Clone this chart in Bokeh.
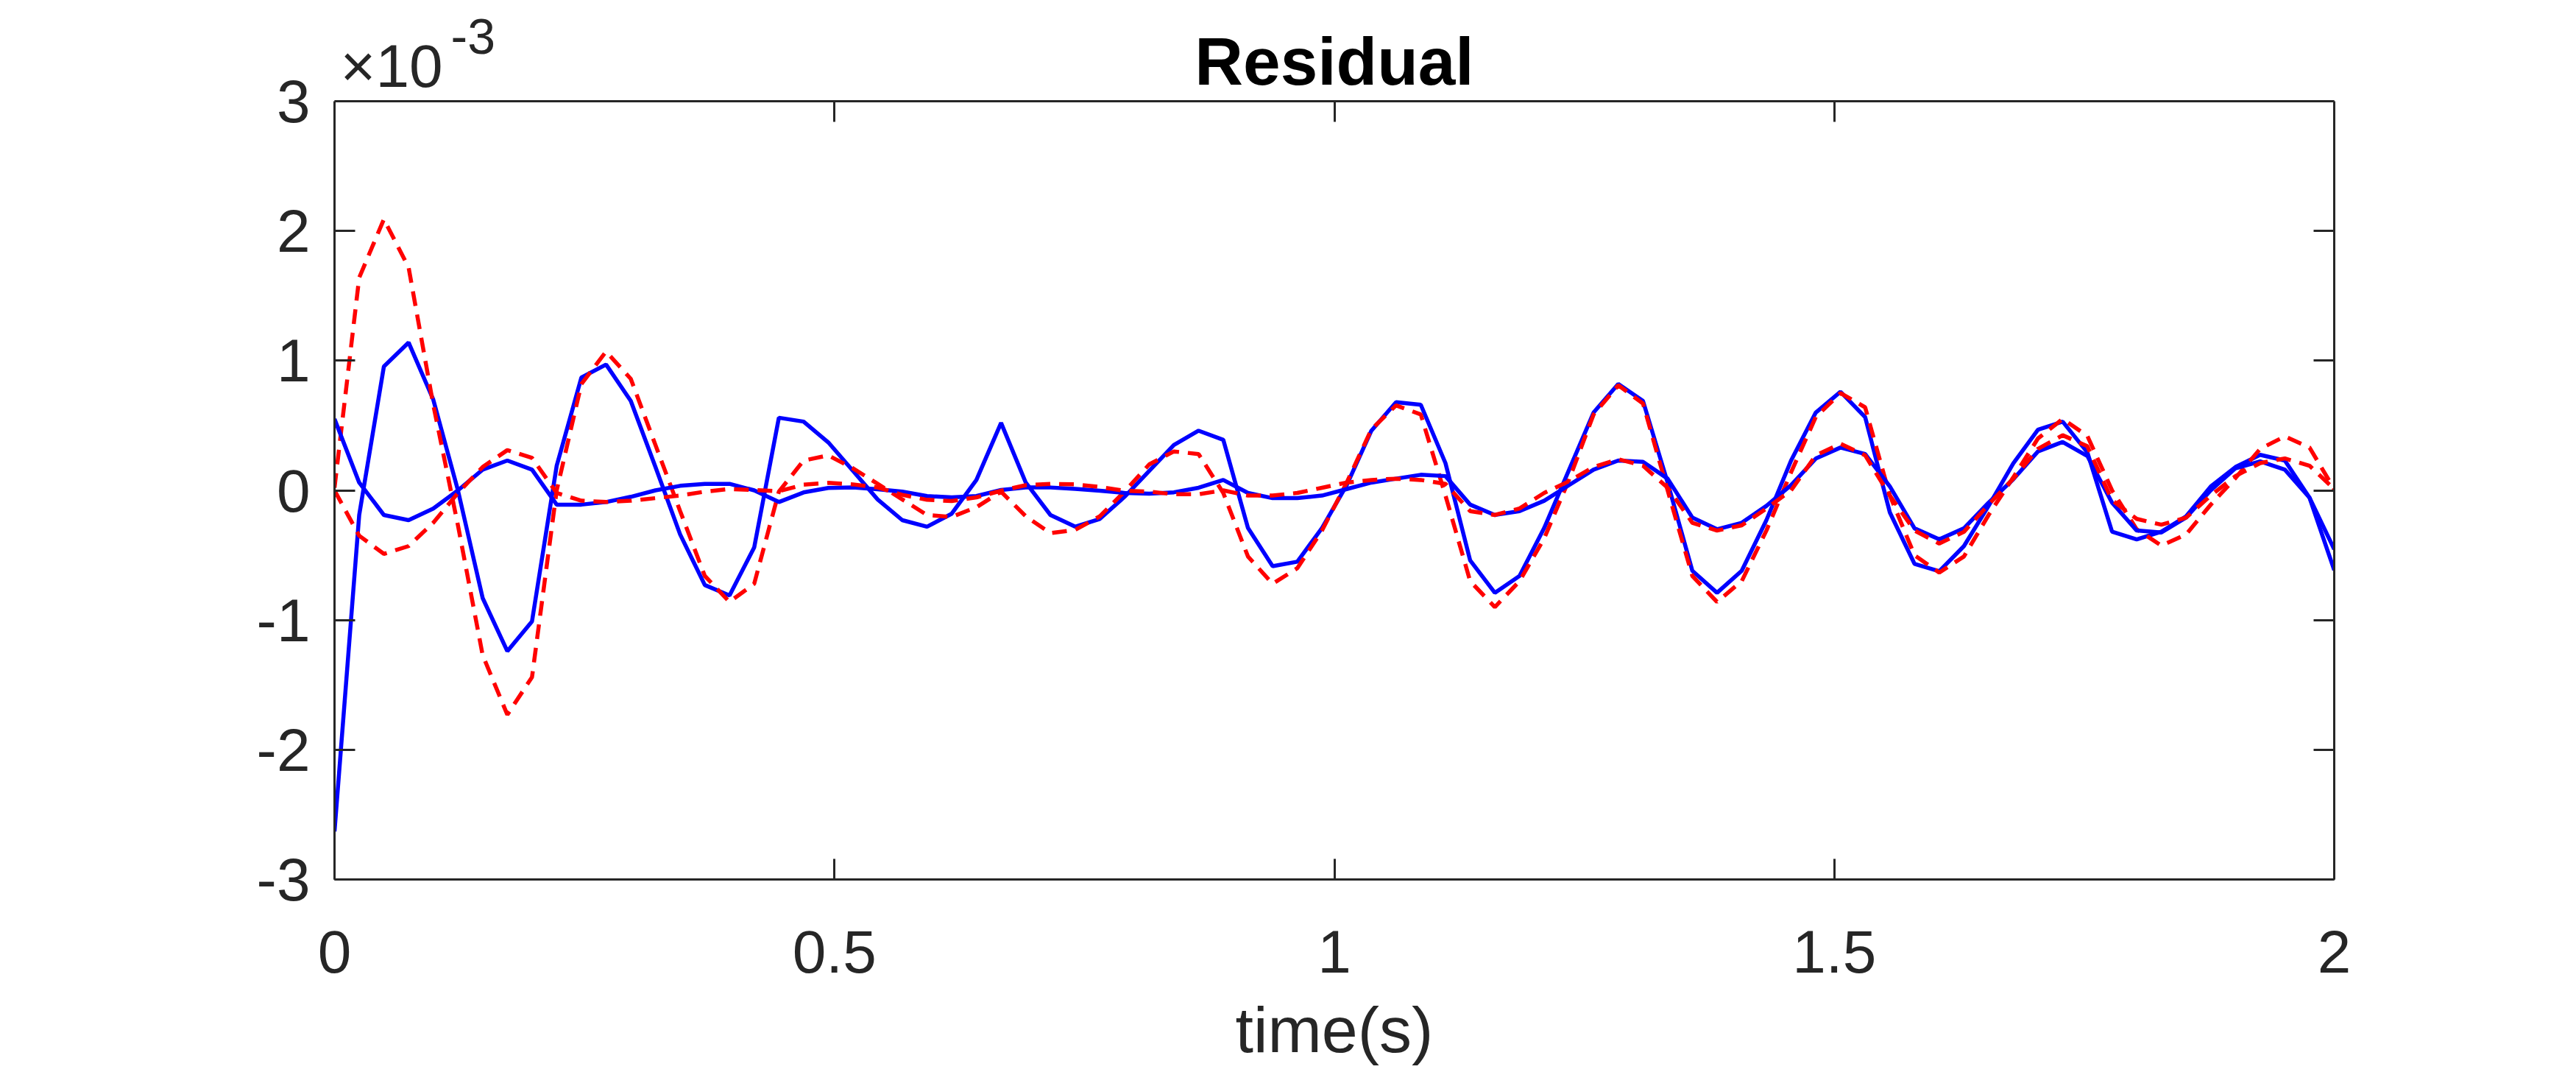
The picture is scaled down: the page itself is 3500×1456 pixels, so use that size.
import numpy as np
from bokeh.plotting import figure
from bokeh.models import Range1d, FixedTicker, CustomJSTickFormatter, LinearAxis, Label
from bokeh.embed import file_html
from bokeh.resources import INLINE

# ---- data (residual values in units of 1e-3, sampled every 2/81 s) ----
time_s = np.linspace(0.0, 2.0, 82)

residual_blue_a = [
    -2.63, -0.19, 0.955, 1.14, 0.70, 0.0, -0.83, -1.24, -1.01, 0.19,
    0.87, 0.97, 0.69, 0.18, -0.34, -0.73, -0.81, -0.44, 0.56, 0.53,
    0.37, 0.15, -0.07, -0.23, -0.28, -0.18, 0.08, 0.52, 0.06, -0.19,
    -0.28, -0.22, -0.05, 0.15, 0.35, 0.46, 0.39, -0.29, -0.585, -0.55,
    -0.29, 0.04, 0.46, 0.68, 0.66, 0.21, -0.54, -0.79, -0.66, -0.29,
    0.155, 0.60, 0.82, 0.69, 0.06, -0.62, -0.79, -0.62, -0.23, 0.23,
    0.60, 0.76, 0.565, -0.17, -0.567, -0.624, -0.43, -0.12, 0.208, 0.467,
    0.53, 0.293, -0.318, -0.378, -0.318, -0.20, 0.03, 0.18, 0.274, 0.23,
    -0.057, -0.615,
]

residual_red_a = [
    0.02, 1.64, 2.09, 1.72, 0.66, -0.27, -1.27, -1.73, -1.44, 0.0,
    0.82, 1.07, 0.86, 0.35, -0.16, -0.66, -0.86, -0.72, -0.01, 0.23,
    0.27, 0.17, 0.05, -0.07, -0.19, -0.205, -0.13, -0.01, -0.20, -0.33,
    -0.305, -0.20, -0.01, 0.20, 0.30, 0.28, -0.02, -0.51, -0.72, -0.60,
    -0.31, 0.06, 0.47, 0.655, 0.585, -0.04, -0.70, -0.90, -0.70, -0.37,
    0.08, 0.585, 0.81, 0.67, 0.0, -0.66, -0.86, -0.70, -0.31, 0.14,
    0.565, 0.75, 0.64, -0.04, -0.50, -0.634, -0.51, -0.19, 0.10, 0.40,
    0.55, 0.42, 0.0, -0.30, -0.426, -0.34, -0.11, 0.095, 0.32, 0.416,
    0.33, 0.01,
]

residual_blue_b = [
    0.55, 0.06, -0.19, -0.23, -0.14, 0.0, 0.16, 0.23, 0.16, -0.11,
    -0.11, -0.09, -0.05, 0.0, 0.035, 0.05, 0.05, 0.0, -0.09, -0.016,
    0.018, 0.022, 0.009, -0.01, -0.044, -0.054, -0.044, 0.003, 0.022, 0.022,
    0.012, -0.003, -0.02, -0.025, -0.015, 0.02, 0.08, -0.02, -0.06, -0.06,
    -0.04, 0.01, 0.06, 0.09, 0.12, 0.11, -0.11, -0.19, -0.16, -0.08,
    0.04, 0.16, 0.23, 0.22, 0.09, -0.21, -0.30, -0.25, -0.12, 0.04,
    0.245, 0.33, 0.28, 0.03, -0.293, -0.378, -0.293, -0.095, 0.085, 0.30,
    0.373, 0.265, -0.095, -0.31, -0.325, -0.21, 0.0, 0.17, 0.223, 0.16,
    -0.057, -0.454,
]

residual_red_b = [
    0.0, -0.35, -0.49, -0.43, -0.25, -0.02, 0.18, 0.31, 0.25, -0.02,
    -0.08, -0.09, -0.08, -0.06, -0.04, -0.01, 0.01, 0.003, -0.007, 0.044,
    0.058, 0.046, 0.022, -0.035, -0.073, -0.082, -0.054, -0.003, 0.04, 0.05,
    0.046, 0.026, -0.003, -0.01, -0.03, -0.03, 0.0, -0.04, -0.04, -0.02,
    0.02, 0.06, 0.08, 0.09, 0.08, 0.05, -0.16, -0.19, -0.14, -0.02,
    0.07, 0.18, 0.24, 0.19, 0.02, -0.25, -0.31, -0.27, -0.14, 0.0,
    0.27, 0.36, 0.27, -0.04, -0.31, -0.41, -0.32, -0.11, 0.09, 0.32,
    0.425, 0.34, -0.076, -0.22, -0.265, -0.21, -0.04, 0.11, 0.21, 0.246,
    0.19, 0.01,
]

x_ticks = [0, 0.5, 1, 1.5, 2]
y_ticks = [-3, -2, -1, 0, 1, 2, 3]
x_limits = (0, 2)
y_limits = (-3, 3)
title_text = "Residual"
x_label = "time(s)"
exponent_base = "\u00d710"
exponent_power = "-3"

# ---- layout (pixels) ----
W, H = 3500, 1456
LEFT, RIGHT, BOTTOM = 454, 329, 262
TOP = 10                       # frame extends up to hold title/exponent
BOX_H = 1057                   # height of the drawn axes box
PX_PER_Y = BOX_H / (y_limits[1] - y_limits[0])
PX_PER_X = (W - LEFT - RIGHT) / (x_limits[1] - x_limits[0])
y_top = y_limits[1] + (H - BOTTOM - TOP - BOX_H) / PX_PER_Y
BOX_TOP_PX = H - BOTTOM - BOX_H  # page y of the box top (y = 3)
TEXT_SHIFT = 29                  # label baseline correction (px)


def y_at(page_y):
    return y_limits[1] + (BOX_TOP_PX - (page_y - TEXT_SHIFT)) / PX_PER_Y


def x_at(page_x):
    return x_limits[0] + (page_x - LEFT) / PX_PER_X


# ---- styling ----
FONT = "Liberation Sans"
INK = "#262626"
BLUE = "#0000FF"
RED = "#FF0000"
LW = 5.5
DASH = "20 12"

p = figure(
    width=W, height=H,
    output_backend="svg", toolbar_location=None,
    x_range=Range1d(*x_limits), y_range=Range1d(y_limits[0], y_top),
    min_border_left=LEFT, min_border_right=RIGHT,
    min_border_top=TOP, min_border_bottom=BOTTOM,
)
p.background_fill_color = "white"
p.border_fill_color = "white"
p.xgrid.visible = False
p.ygrid.visible = False
p.outline_line_color = None

label_fmt = CustomJSTickFormatter(code="return tick.toString();")
blank_fmt = CustomJSTickFormatter(code="return '';")


def style_axis(ax, show_labels):
    ax.axis_line_color = INK
    ax.axis_line_width = 3
    ax.major_tick_line_color = INK
    ax.major_tick_line_width = 3
    ax.major_tick_in = 28
    ax.major_tick_out = 0
    ax.minor_tick_in = 0
    ax.minor_tick_out = 0
    ax.minor_tick_line_color = None
    if show_labels:
        ax.major_label_text_font = FONT
        ax.major_label_text_font_size = "82px"
        ax.major_label_text_color = INK
    else:
        ax.major_label_text_font_size = "0px"
        ax.major_label_standoff = 0


xa = p.xaxis[0]
xa.ticker = FixedTicker(ticks=x_ticks)
xa.formatter = label_fmt
style_axis(xa, True)
xa.major_label_standoff = 69
xa.axis_label = x_label
xa.axis_label_text_font = FONT
xa.axis_label_text_font_size = "88px"
xa.axis_label_text_font_style = "normal"
xa.axis_label_text_color = INK
xa.axis_label_standoff = 25

ya = p.yaxis[0]
ya.ticker = FixedTicker(ticks=y_ticks)
ya.formatter = label_fmt
ya.bounds = y_limits
style_axis(ya, True)
ya.major_label_standoff = 33

right_ax = LinearAxis(ticker=FixedTicker(ticks=y_ticks), formatter=blank_fmt,
                      bounds=y_limits)
style_axis(right_ax, False)
p.add_layout(right_ax, "right")

top_ax = LinearAxis(ticker=FixedTicker(ticks=x_ticks), formatter=blank_fmt,
                    fixed_location=y_limits[1])
style_axis(top_ax, False)
p.add_layout(top_ax, "above")

# ---- series ----
p.line(time_s, residual_blue_a, line_color=BLUE, line_width=LW)
p.line(time_s, residual_red_a, line_color=RED, line_width=LW, line_dash=DASH)
p.line(time_s, residual_blue_b, line_color=BLUE, line_width=LW)
p.line(time_s, residual_red_b, line_color=RED, line_width=LW, line_dash=DASH)

# ---- title and axis exponent ----
p.add_layout(Label(x=(x_limits[0] + x_limits[1]) / 2, y=y_at(112),
                   text=title_text, text_font=FONT, text_font_size="91px",
                   text_font_style="bold", text_color="#000000",
                   text_baseline="alphabetic", text_align="center"))
p.add_layout(Label(x=x_at(462), y=y_at(118),
                   text=exponent_base, text_font=FONT, text_font_size="82px",
                   text_color=INK, text_baseline="alphabetic", text_align="left"))
p.add_layout(Label(x=x_at(612), y=y_at(78),
                   text=exponent_power, text_font=FONT, text_font_size="68px",
                   text_color=INK, text_baseline="alphabetic", text_align="left"))

open("out.html", "w").write(file_html(p, INLINE))
